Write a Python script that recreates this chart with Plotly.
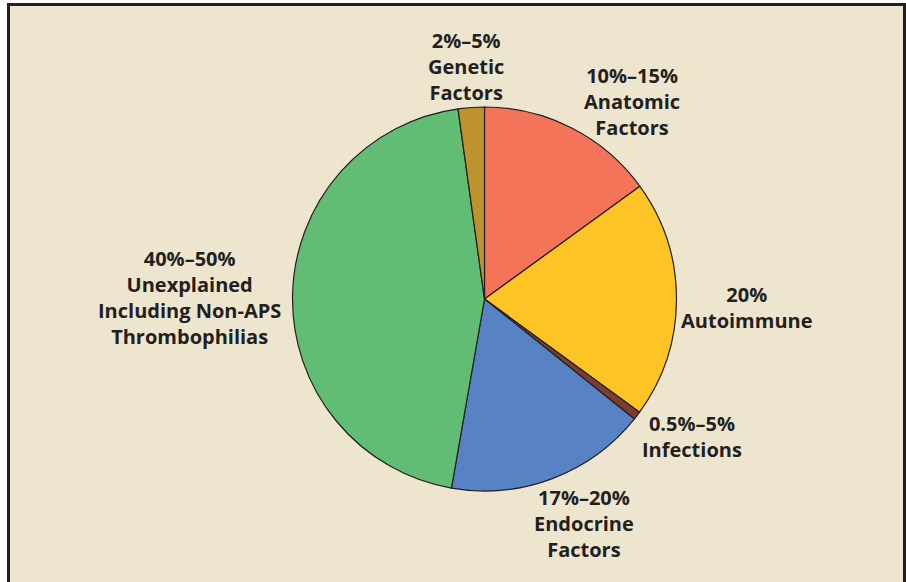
import plotly.graph_objects as go

W, H = 906, 582

categories = ["Anatomic Factors", "Autoimmune", "Infections", "Endocrine Factors",
              "Unexplained Including Non-APS Thrombophilias", "Genetic Factors"]
values = [15.0, 20.0, 0.7, 17.0, 45.0, 2.2]
colors = ["#F37458", "#FEC325", "#7B3F2E", "#5782C3", "#62BD74", "#BE932D"]

label_texts = ["10%–15%<br>Anatomic<br>Factors",
               "20%<br>Autoimmune",
               "0.5%–5%<br>Infections",
               "17%–20%<br>Endocrine<br>Factors",
               "40%–50%<br>Unexplained<br>Including Non-APS<br>Thrombophilias",
               "2%–5%<br>Genetic<br>Factors"]
label_px = [(632, 101), (747, 307), (692, 436), (584, 523), (189, 297), (466, 66)]

cx, cy, r = 484.5, 299, 192

fig = go.Figure(go.Pie(
    labels=categories, values=values, sort=False, direction="clockwise", rotation=0,
    marker=dict(colors=colors, line=dict(color="#231f20", width=1.2)),
    textinfo="none", hoverinfo="label+percent", showlegend=False,
    domain=dict(x=[(cx - r) / W, (cx + r) / W], y=[(H - cy - r) / H, (H - cy + r) / H]),
))

anns = []
for t, (px, py) in zip(label_texts, label_px):
    bold = "<b>" + t.replace("<br>", "</b><br><b>") + "</b>"
    anns.append(dict(x=px / W, y=1 - py / H, xref="paper", yref="paper", text=bold,
                     showarrow=False, xanchor="center", yanchor="middle", align="center",
                     font=dict(family="Open Sans", size=20, color="#231f20")))

fig.update_layout(
    width=W, height=H, margin=dict(l=0, r=0, t=0, b=0),
    paper_bgcolor="#FFFFFF", plot_bgcolor="#EEE5CF",
    annotations=anns,
    shapes=[dict(type="rect", xref="paper", yref="paper", layer="below",
                 x0=8.5 / W, x1=904.5 / W, y0=-0.1, y1=1 - 4.5 / H,
                 fillcolor="#EEE5CF", line=dict(color="#231f20", width=3))],
)

fig.write_html("out.html", config={"displayModeBar": False},
               post_script="document.body.style.margin='0';document.body.style.overflow='hidden';")
